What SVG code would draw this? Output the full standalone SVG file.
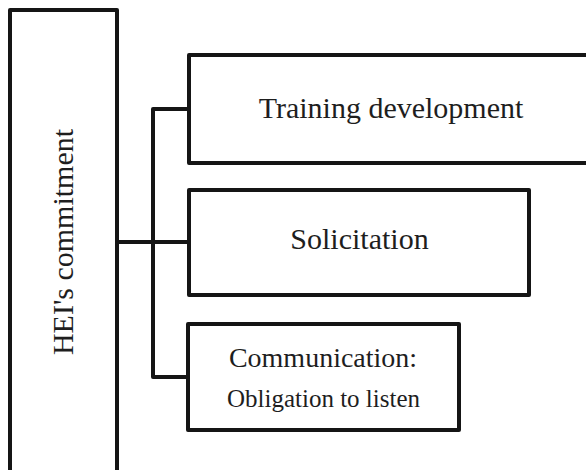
<svg xmlns="http://www.w3.org/2000/svg" width="586" height="470" viewBox="0 0 586 470">
<style>
.b{fill:none;stroke:#151515;stroke-width:4;stroke-linejoin:round}
.t{font-family:"Liberation Serif","Times New Roman",serif;fill:#1e1e1e;text-anchor:middle}
</style>
<rect width="586" height="470" fill="#fff"/>
<g id="connectors" class="b">
<path d="M117,242 H189"/>
<path d="M189,109 H153 V377 H188"/>
</g>
<g id="hei">
<path class="b" d="M10,476 V10 H117 V476"/>
<text class="t" font-size="30" transform="translate(73,242) rotate(-90)">HEI's commitment</text>
</g>
<g id="training">
<path class="b" d="M590,55 H189 V163 H590"/>
<text class="t" font-size="30" x="391" y="118">Training development</text>
</g>
<g id="solicitation">
<rect class="b" x="189" y="190" width="340" height="105"/>
<text class="t" font-size="30" x="359.5" y="249">Solicitation</text>
</g>
<g id="communication">
<rect class="b" x="188" y="324" width="271" height="106"/>
<text class="t" font-size="28" x="323" y="367">Communication:</text>
<text class="t" font-size="25" x="323.5" y="407">Obligation to listen</text>
</g>
</svg>
